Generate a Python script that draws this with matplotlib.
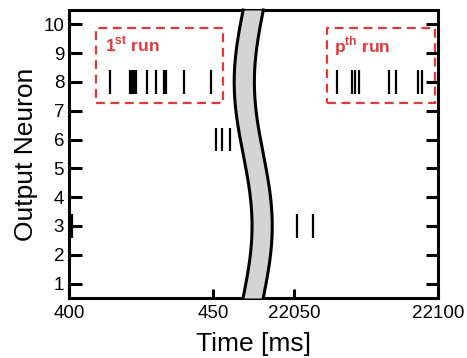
import numpy as np
import matplotlib
matplotlib.use("Agg")
import matplotlib.pyplot as plt
from matplotlib.patches import Rectangle

plt.rcParams["font.family"] = ["Liberation Sans", "DejaVu Sans"]
plt.rcParams["mathtext.fontset"] = "custom"
plt.rcParams["mathtext.bf"] = "Liberation Sans:bold"
plt.rcParams["mathtext.rm"] = "Liberation Sans"

# spike data (neuron index, spike times in ms)
run1_n8 = [414.2, 421.2, 421.9, 422.6, 423.3, 427.1, 430.2, 433.0, 433.7, 439.9, 449.3]
run1_n6 = [451.0, 453.1, 455.7]
run1_n3 = [401.2]
runp_n8 = [22065.1, 22070.0, 22071.1, 22072.5, 22083.1, 22085.5, 22093.2, 22094.6]
runp_n3 = [22051.0, 22056.8]

left_lim = (400, 464)
right_lim = (22036, 22100)
yticks = list(range(1, 11))
red = "#e4373a"

fig = plt.figure(figsize=(4.67, 3.58), dpi=100)
L, R, B, T = 69/467, 438/467, 60/358, 348/358
W = (R - L) / 2
ax1 = fig.add_axes([L, B, W, T - B])
ax2 = fig.add_axes([L + W, B, W, T - B])
ax1.set_zorder(2)

for ax, xl in ((ax1, left_lim), (ax2, right_lim)):
    ax.set_xlim(*xl)
    ax.set_ylim(0.5, 10.5)
    ax.set_yticks(yticks)
    for s in ax.spines.values():
        s.set_linewidth(2.2)
    ax.tick_params(direction="in", width=2.2, labelsize=13.5)
    ax.tick_params(axis="y", length=9)
    ax.tick_params(axis="x", length=6.5, pad=5)

ax1.spines["right"].set_visible(False)
ax2.spines["left"].set_visible(False)
ax1.set_xticks([400, 450])
ax2.set_xticks([22050, 22100])
ax2.tick_params(axis="y", left=False, right=True, labelleft=False)

def spikes(ax, times, n):
    ax.vlines(times, n - 0.4, n + 0.4, color="black", linewidth=1.6, zorder=3)

spikes(ax1, run1_n8, 8)
spikes(ax1, run1_n6, 6)
spikes(ax1, run1_n3, 3)
spikes(ax2, runp_n8, 8)
spikes(ax2, runp_n3, 3)

# dashed boxes
ax1.add_patch(Rectangle((409.4, 7.26), 44.0, 2.6, fill=False, edgecolor=red,
                        linewidth=1.6, linestyle=(0, (4, 2.5)), zorder=4))
ax2.add_patch(Rectangle((22061.4, 7.26), 37.6, 2.6, fill=False, edgecolor=red,
                        linewidth=1.6, linestyle=(0, (4, 2.5)), zorder=4, clip_on=False))
ax1.text(412.5, 9.04, r"1$^{\mathbf{st}}$ run", color=red, fontsize=12.5,
         fontweight="bold", va="baseline")
ax2.text(22063.8, 9.04, r"p$^{\mathbf{th}}$ run", color=red, fontsize=12.5,
         fontweight="bold", va="baseline")

# axis break band
yy = np.linspace(0.5, 10.5, 200)
s = (10.5 - yy) / 10
cx = 463.9 - 3.1 * np.sin(2 * np.pi * s)
ax1.fill_betweenx(yy, cx - 3.5, cx + 3.5, color="#d4d4d4", zorder=5, clip_on=False,
                  linewidth=0)
ax1.plot(cx - 3.5, yy, color="black", linewidth=2.2, zorder=6, clip_on=False)
ax1.plot(cx + 3.5, yy, color="black", linewidth=2.2, zorder=6, clip_on=False)

ax1.set_ylabel("Output Neuron", fontsize=19, labelpad=4)
fig.text((L + R) / 2, 7/358, "Time [ms]", fontsize=19, ha="center", va="baseline")

fig.savefig("out.png", dpi=100)
